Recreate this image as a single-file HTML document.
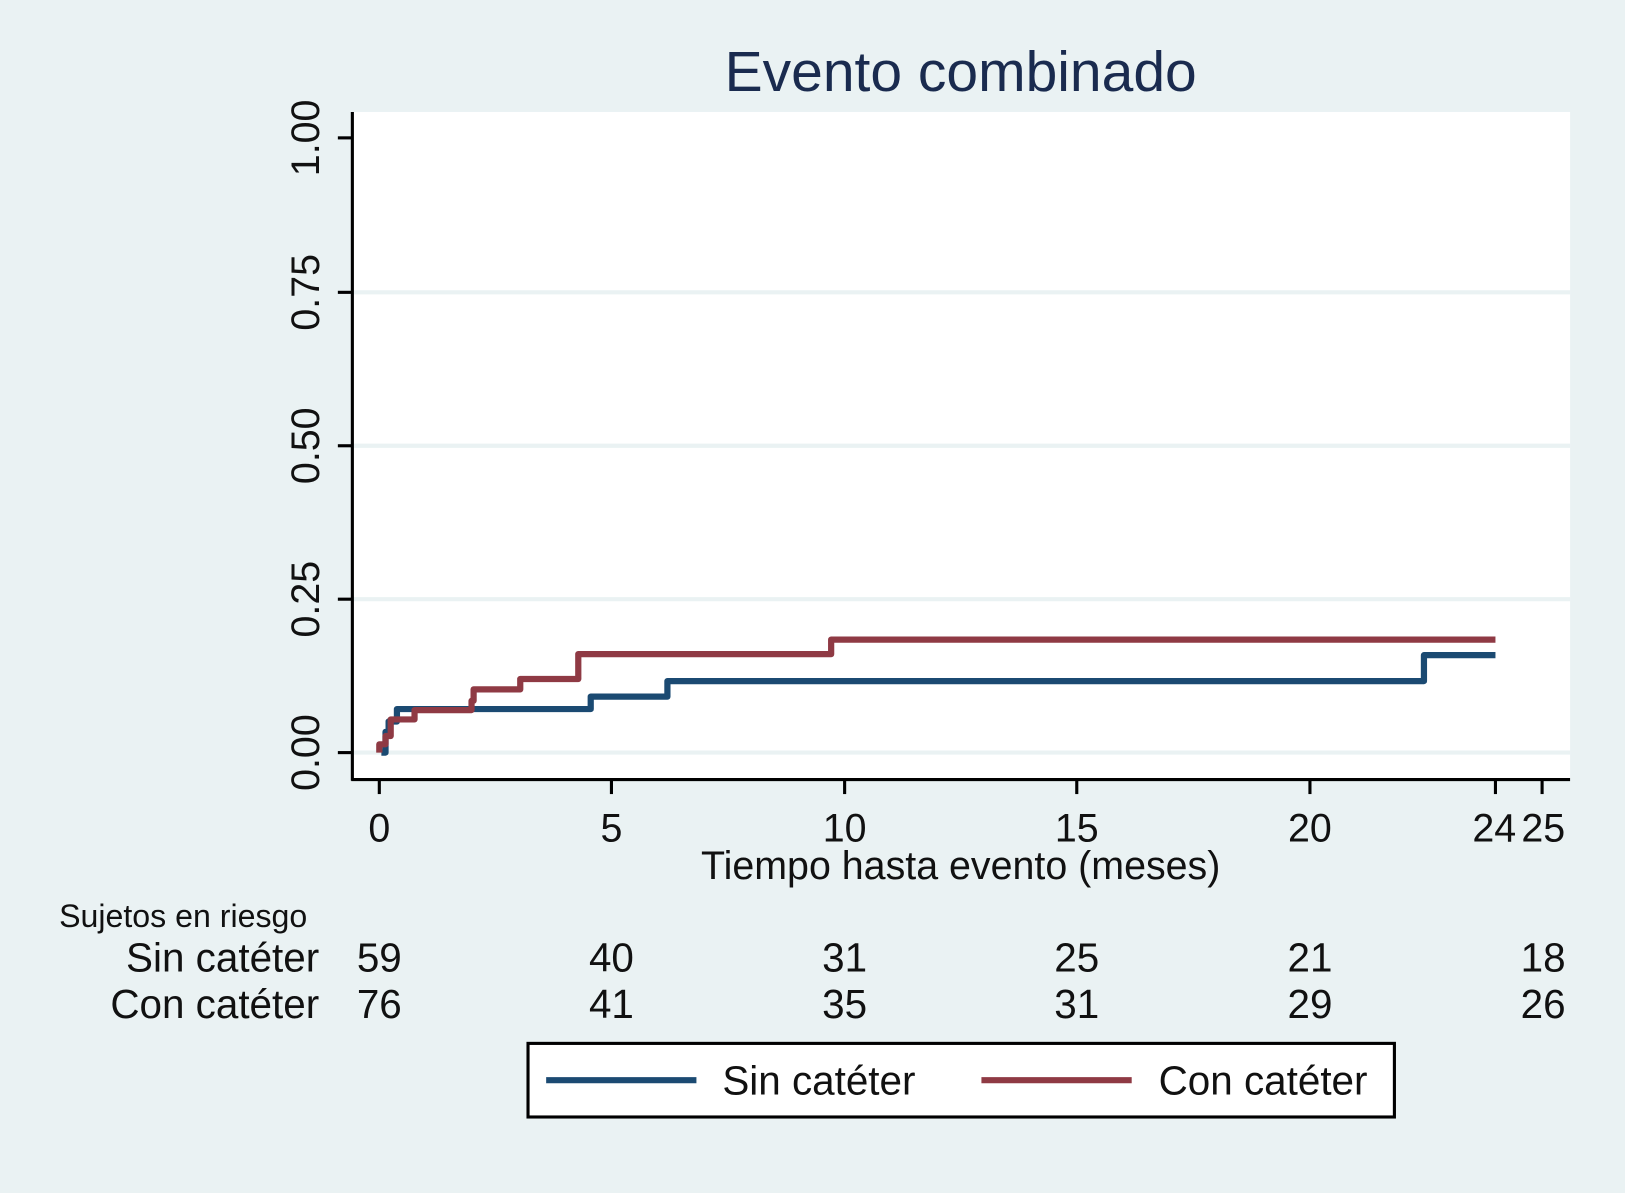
<!DOCTYPE html>
<html><head><meta charset="utf-8"><style>html,body{margin:0;padding:0;background:#eaf2f3}</style></head>
<body>
<svg width="1625" height="1188" viewBox="0 0 1568 1146" preserveAspectRatio="none" xmlns="http://www.w3.org/2000/svg" font-family="Liberation Sans, Arial, sans-serif">
<rect x="0" y="0" width="1568" height="1146" fill="#eaf2f3"/>
<rect x="340" y="108" width="1175" height="644" fill="#ffffff"/>
<g stroke="#eaf2f3" stroke-width="4">
<line x1="340" y1="726" x2="1515" y2="726"/>
<line x1="340" y1="578" x2="1515" y2="578"/>
<line x1="340" y1="430" x2="1515" y2="430"/>
<line x1="340" y1="282" x2="1515" y2="282"/>
</g>
<text x="927" y="88" font-size="55" fill="#1a2b4f" text-anchor="middle">Evento combinado</text>
<g stroke="#000" stroke-width="3" fill="none">
<line x1="340" y1="108" x2="340" y2="753"/>
<line x1="339" y1="752" x2="1515" y2="752"/>
<line x1="326" y1="726" x2="340" y2="726"/>
<line x1="326" y1="578" x2="340" y2="578"/>
<line x1="326" y1="430" x2="340" y2="430"/>
<line x1="326" y1="282" x2="340" y2="282"/>
<line x1="326" y1="133" x2="340" y2="133"/>
<line x1="366" y1="752" x2="366" y2="766"/>
<line x1="590" y1="752" x2="590" y2="766"/>
<line x1="815" y1="752" x2="815" y2="766"/>
<line x1="1039" y1="752" x2="1039" y2="766"/>
<line x1="1264" y1="752" x2="1264" y2="766"/>
<line x1="1443" y1="752" x2="1443" y2="766"/>
<line x1="1488" y1="752" x2="1488" y2="766"/>
</g>
<g font-size="38" fill="#111" text-anchor="middle">
<text transform="translate(308,726) rotate(-90)">0.00</text>
<text transform="translate(308,578) rotate(-90)">0.25</text>
<text transform="translate(308,430) rotate(-90)">0.50</text>
<text transform="translate(308,282) rotate(-90)">0.75</text>
<text transform="translate(308,133) rotate(-90)">1.00</text>
<text x="366" y="812">0</text>
<text x="590" y="812">5</text>
<text x="815" y="812">10</text>
<text x="1039" y="812">15</text>
<text x="1264" y="812">20</text>
<text x="1443" y="812" text-anchor="end" dx="20">24</text>
<text x="1488" y="812" text-anchor="start" dx="-20">25</text>
<text x="927" y="848">Tiempo hasta evento (meses)</text>
</g>
<g fill="none" stroke-width="6" stroke-linejoin="round">
<polyline stroke="#1b4a72" points="368,726 372,726 372,706 375,706 375,696 383,696 383,684 570,684 570,672 644,672 644,657 1374,657 1374,632 1443,632"/>
<polyline stroke="#8f3a44" points="366,726 366,718 372,718 372,710 377,710 377,694 400,694 400,685 455,685 455,676 457,676 457,665 502,665 502,655 558,655 558,631 802,631 802,617 1443,617"/>
</g>
<text x="57" y="894" font-size="31" fill="#111">Sujetos en riesgo</text>
<g font-size="39" fill="#111">
<text x="308" y="937" text-anchor="end">Sin catéter</text>
<text x="308" y="982" text-anchor="end">Con catéter</text>
<g text-anchor="middle">
<text x="366" y="937">59</text><text x="590" y="937">40</text><text x="815" y="937">31</text><text x="1039" y="937">25</text><text x="1264" y="937">21</text><text x="1489" y="937">18</text>
<text x="366" y="982">76</text><text x="590" y="982">41</text><text x="815" y="982">35</text><text x="1039" y="982">31</text><text x="1264" y="982">29</text><text x="1489" y="982">26</text>
</g>
</g>
<rect x="509.5" y="1006.5" width="836" height="71" fill="#fff" stroke="#000" stroke-width="3"/>
<line x1="527" y1="1042" x2="672" y2="1042" stroke="#1b4a72" stroke-width="6"/>
<line x1="947" y1="1042" x2="1092" y2="1042" stroke="#8f3a44" stroke-width="6"/>
<text x="697" y="1056" font-size="39" fill="#111">Sin catéter</text>
<text x="1118" y="1056" font-size="39" fill="#111">Con catéter</text>
</svg>
</body></html>
